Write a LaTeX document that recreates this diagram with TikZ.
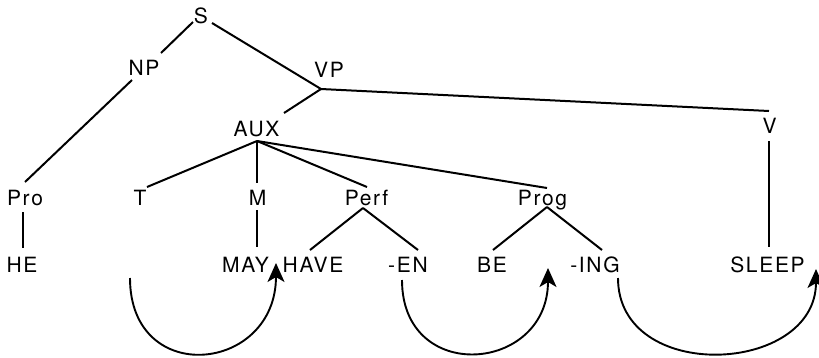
\documentclass[tikz,border=0pt]{standalone}
\usepackage{fontspec}
\setmainfont{TeX Gyre Heros}[LetterSpace=8]
\usetikzlibrary{arrows.meta}
\begin{document}
\begin{tikzpicture}[x=1pt,y=-1pt,
  lab/.style={anchor=base,inner sep=0pt,font=\fontsize{21}{25}\selectfont},
  branch/.style={line width=2pt},
  move/.style={line width=1.9pt,-{Stealth[length=19pt,width=17pt,inset=5pt]}}]
\useasboundingbox (0,0) rectangle (819,357);
% nodes (base points)
\node[lab] (S) at (201,23.5) {S};
\node[lab] (NP) at (144,75) {NP};
\node[lab] (VP) at (329,77) {VP};
\node[lab] (AUX) at (256.5,136) {AUX};
\node[lab] (V) at (769.5,133) {V};
\node[lab] (Pro) at (25,205) {Pro};
\node[lab] (T) at (140,205) {T};
\node[lab] (M) at (257.5,205) {M};
\node[lab] (Perf) at (366.5,205) {Perf};
\node[lab] (Prog) at (542.5,205) {Prog};
\node[lab] (HE) at (22,272) {HE};
\node[lab] (MAY) at (245.5,272) {MAY};
\node[lab] (HAVE) at (313,272) {HAVE};
\node[lab] (EN) at (408,272) {-EN};
\node[lab] (BE) at (492,272) {BE};
\node[lab] (ING) at (595,272) {-ING};
\node[lab] (SLEEP) at (767.5,272) {SLEEP};
% junction points
\coordinate (vpj) at ([shift={(-8,12)}]VP.base);
\coordinate (auxj) at ([shift={(0.5,5)}]AUX.base);
\coordinate (perfj) at ([shift={(-3.5,3)}]Perf.base);
\coordinate (progj) at ([shift={(4.5,2)}]Prog.base);
% branches
\draw[branch] ([shift={(-8,-1.5)}]S.base) -- ([shift={(17,-22)}]NP.base);
\draw[branch] ([shift={(11,-0.5)}]S.base) -- (vpj);
\draw[branch] ([shift={(-12,5)}]NP.base) -- ([shift={(0,-23)}]Pro.base);
\draw[branch] (vpj) -- ([shift={(27.5,-23)}]AUX.base);
\draw[branch] (vpj) -- ([shift={(-0.5,-22)}]V.base);
\draw[branch] (auxj) -- ([shift={(7,-18)}]T.base);
\draw[branch] (auxj) -- ([shift={(-0.5,-22)}]M.base);
\draw[branch] (auxj) -- ([shift={(0.5,-18)}]Perf.base);
\draw[branch] (auxj) -- ([shift={(4.5,-17)}]Prog.base);
\draw[branch] ([shift={(-2,7)}]Pro.base) -- ([shift={(1,-24)}]HE.base);
\draw[branch] ([shift={(-0.5,5)}]M.base) -- ([shift={(11.5,-25)}]MAY.base);
\draw[branch] (perfj) -- ([shift={(-3,-22)}]HAVE.base);
\draw[branch] (perfj) -- ([shift={(10,-22)}]EN.base);
\draw[branch] (progj) -- ([shift={(1,-22)}]BE.base);
\draw[branch] (progj) -- ([shift={(7,-22)}]ING.base);
\draw[branch] ([shift={(-0.5,8)}]V.base) -- ([shift={(1.5,-25)}]SLEEP.base);
% movement arrows
\coordinate (m1s) at (130,278);
\coordinate (m1e) at (276,263);
\coordinate (m2s) at (402,280);
\coordinate (m2e) at (548,268);
\coordinate (m3s) at (618,278);
\coordinate (m3e) at (816,269);
\draw[move] (m1s) .. controls (130,388) and (276,373) .. (m1e);
\draw[move] (m2s) .. controls (402,385) and (548,373) .. (m2e);
\draw[move] (m3s) .. controls (618,384) and (816,375) .. (m3e);
\end{tikzpicture}
\end{document}
